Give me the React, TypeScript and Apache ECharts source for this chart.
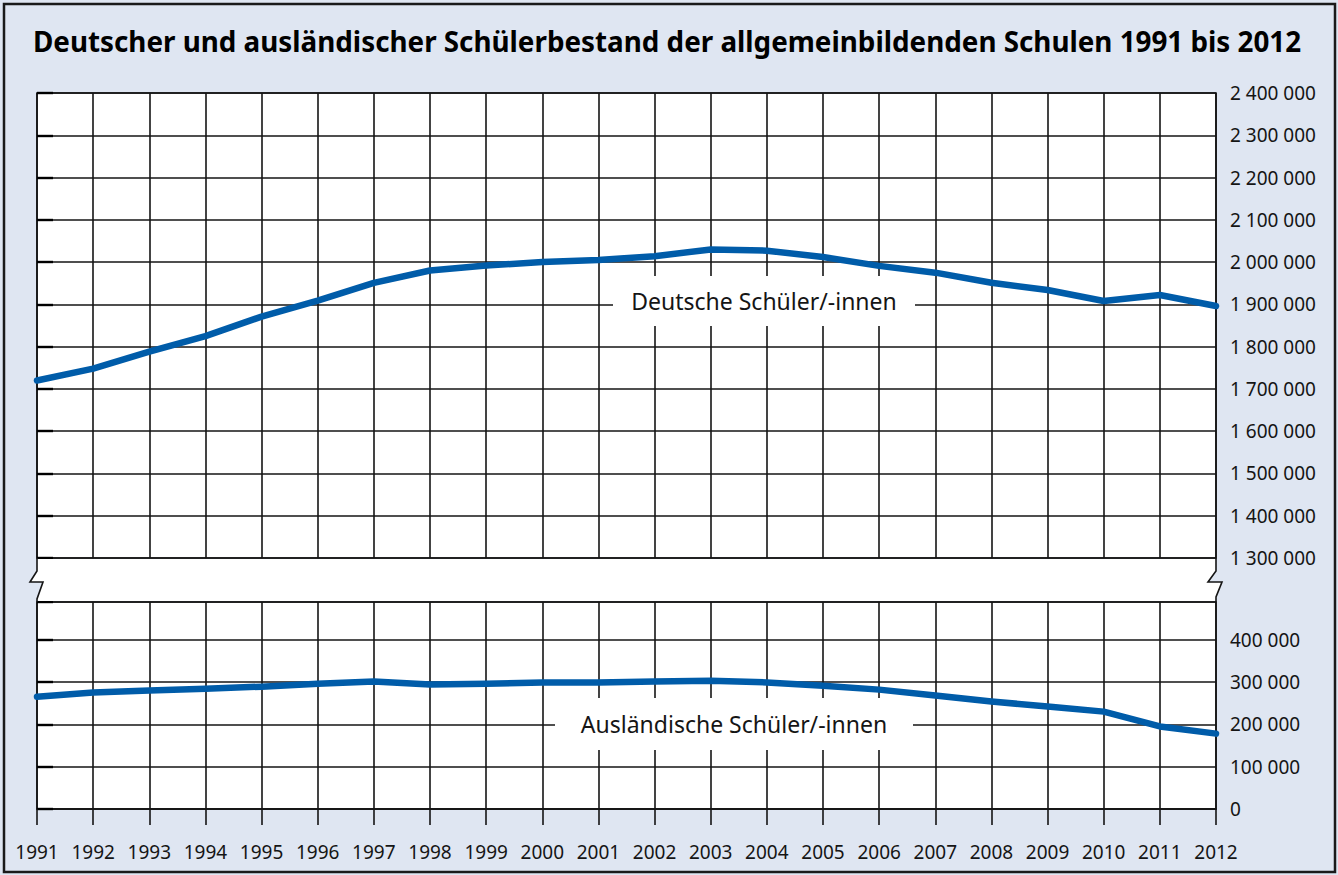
import React, { useEffect, useRef } from "react";
import * as echarts from "echarts";

const TITLE = "Deutscher und ausländischer Schülerbestand der allgemeinbildenden Schulen 1991 bis 2012";
const LABEL_DE = "Deutsche Schüler/-innen";
const LABEL_AUS = "Ausländische Schüler/-innen";

const years = [1991, 1992, 1993, 1994, 1995, 1996, 1997, 1998, 1999, 2000, 2001, 2002, 2003, 2004, 2005, 2006, 2007, 2008, 2009, 2010, 2011, 2012];
const deutsche = [1720000, 1748000, 1788000, 1825000, 1871000, 1909000, 1951000, 1980000, 1992000, 2000000, 2005000, 2014000, 2030000, 2027000, 2012000, 1991000, 1975000, 1951000, 1934000, 1908000, 1922000, 1896000];
const auslaendische = [265000, 275000, 280000, 284000, 289000, 296000, 301000, 294000, 296000, 299000, 299000, 301000, 303000, 299000, 291000, 282000, 268000, 254000, 242000, 230000, 195000, 178000];

const upperMin = 1300000;
const upperMax = 2400000;
const lowerMin = 0;
const lowerMax = 489000;
const lowerLastLabel = 400000;
const step = 100000;

const fmt = (v: number) => String(v).replace(/\B(?=(\d{3})+(?!\d))/g, " ");

export default function App() {
  const ref = useRef<HTMLDivElement>(null);
  useEffect(() => {
    const chart = echarts.init(ref.current!, null, { renderer: "svg" });
    const font = "'Noto Sans', sans-serif";
    const ink = "#151515";
    const blue = "#005ca9";
    const gridLine = { show: true, lineStyle: { color: ink, width: 1.6 } };
    const leftTick = { show: true, inside: true, length: 16, lineStyle: { color: "#000", width: 2.4 } };

    chart.setOption({
      animation: false,
      backgroundColor: "#dfe6f2",
      title: {
        text: TITLE,
        left: 28,
        top: 22,
        textStyle: { fontFamily: font, fontSize: 27.8, fontWeight: "bold", color: "#000" },
      },
      grid: [
        { left: 37, right: 122, top: 93, height: 465, show: true, backgroundColor: "#fff", borderColor: ink, borderWidth: 1.6 },
        { left: 37, right: 122, top: 602, height: 207, show: true, backgroundColor: "#fff", borderColor: ink, borderWidth: 1.6 },
      ],
      xAxis: [
        {
          type: "value", gridIndex: 0, min: years[0], max: years[years.length - 1], interval: 1,
          axisLabel: { show: false }, axisTick: { show: false }, axisLine: { show: false }, splitLine: gridLine,
        },
        {
          type: "value", gridIndex: 1, min: years[0], max: years[years.length - 1], interval: 1,
          axisLabel: { show: true, formatter: (v: number) => String(v), fontFamily: font, fontSize: 19, color: ink, margin: 33 },
          axisTick: { show: true, length: 16, lineStyle: { color: ink, width: 1.6 } },
          axisLine: { show: true, lineStyle: { color: ink, width: 1.6 } },
          splitLine: gridLine,
        },
      ],
      yAxis: [
        {
          type: "value", gridIndex: 0, position: "right", min: upperMin, max: upperMax, interval: step,
          axisLabel: { formatter: (v: number) => fmt(v), fontFamily: font, fontSize: 19, color: ink, margin: 14 },
          axisTick: { show: false }, axisLine: { show: false }, splitLine: gridLine,
        },
        {
          type: "value", gridIndex: 1, position: "right", min: lowerMin, max: lowerMax, interval: step,
          axisLabel: { formatter: (v: number) => (v > lowerLastLabel ? "" : fmt(v)), fontFamily: font, fontSize: 19, color: ink, margin: 14 },
          axisTick: { show: false }, axisLine: { show: false }, splitLine: gridLine,
        },
        {
          type: "value", gridIndex: 0, position: "left", min: upperMin, max: upperMax, interval: step,
          axisLabel: { show: false }, axisTick: leftTick, axisLine: { show: false }, splitLine: { show: false },
        },
        {
          type: "value", gridIndex: 1, position: "left", min: lowerMin, max: lowerMax, interval: step,
          axisLabel: { show: false }, axisTick: leftTick, axisLine: { show: false }, splitLine: { show: false },
        },
      ],
      series: [
        {
          type: "line", xAxisIndex: 0, yAxisIndex: 0, name: LABEL_DE,
          data: years.map((y, i) => [y, deutsche[i]]),
          symbol: "none", lineStyle: { color: blue, width: 6.5, cap: "round", join: "round" }, z: 3,
        },
        {
          type: "line", xAxisIndex: 1, yAxisIndex: 1, name: LABEL_AUS,
          data: years.map((y, i) => [y, auslaendische[i]]),
          symbol: "none", lineStyle: { color: blue, width: 6.5, cap: "round", join: "round" }, z: 3,
        },
      ],
      graphic: [
        {
          type: "rect", z: 20, silent: true,
          shape: { x: 4, y: 4, width: 1331, height: 868 },
          style: { fill: "none", stroke: "#1a1a1a", lineWidth: 2.5 },
        },
        {
          type: "polygon", z: 5, silent: true,
          shape: { points: [[37, 559], [37, 571], [30, 582], [43, 582], [37, 599], [37, 601], [1216, 601], [1216, 597], [1222, 582], [1208, 582], [1216, 571], [1216, 559]] },
          style: { fill: "#fff", stroke: "none" },
        },
        {
          type: "polyline", z: 6, silent: true,
          shape: { points: [[37, 558], [37, 571], [30, 582], [43, 582], [37, 599], [37, 602]] },
          style: { stroke: ink, lineWidth: 1.6, fill: "none" },
        },
        {
          type: "polyline", z: 6, silent: true,
          shape: { points: [[1216, 558], [1216, 571], [1208, 582], [1222, 582], [1216, 597], [1216, 602]] },
          style: { stroke: ink, lineWidth: 1.6, fill: "none" },
        },
        {
          type: "rect", z: 5, silent: true,
          shape: { x: 613, y: 276, width: 302, height: 50 },
          style: { fill: "#fff", stroke: "none" },
        },
        {
          type: "text", z: 7, silent: true,
          style: { x: 764, y: 301, text: LABEL_DE, font: `23px ${font}`, fill: ink, align: "center", verticalAlign: "middle" },
        },
        {
          type: "rect", z: 5, silent: true,
          shape: { x: 555, y: 698, width: 358, height: 52 },
          style: { fill: "#fff", stroke: "none" },
        },
        {
          type: "text", z: 7, silent: true,
          style: { x: 734, y: 724, text: LABEL_AUS, font: `23px ${font}`, fill: ink, align: "center", verticalAlign: "middle" },
        },
      ],
    });
    return () => chart.dispose();
  }, []);
  return <div ref={ref} style={{ position: "absolute", left: 0, top: 0, width: 1338, height: 875 }} />;
}
